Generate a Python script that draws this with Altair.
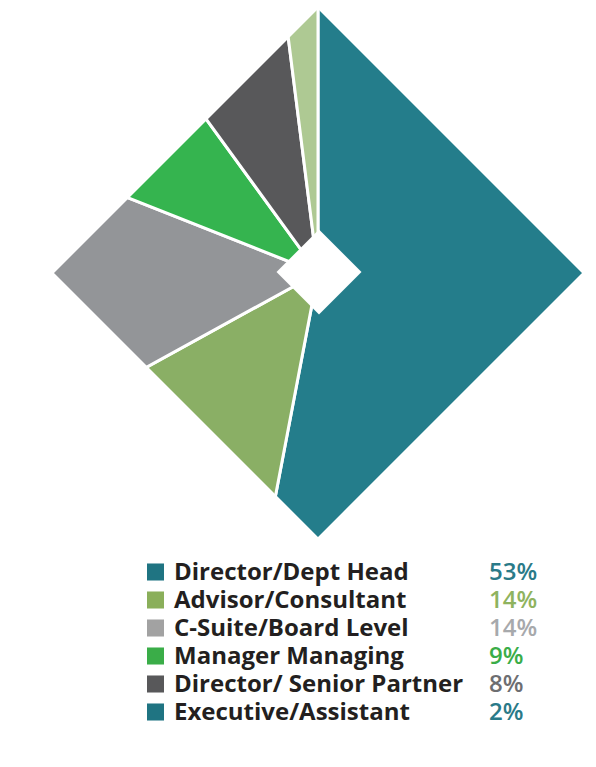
import altair as alt
import pandas as pd

# categories and their shares (percent), in clockwise order from 12 o'clock
categories = ["Director/Dept Head", "Advisor/Consultant", "C-Suite/Board Level",
              "Manager Managing", "Director/ Senior Partner", "Executive/Assistant"]
shares = [53, 14, 14, 9, 8, 2]
pct_labels = ["53%", "14%", "14%", "9%", "8%", "2%"]

slice_colors = ["#247D8B", "#8AAF65", "#939598", "#35B44F", "#58585A", "#AEC993"]
swatch_colors = ["#1F7482", "#8AAF5A", "#A2A2A2", "#3AAD48", "#58585A", "#1F7482"]
pct_colors = ["#2A7A88", "#8FB35E", "#A7A9AC", "#3AAD48", "#6D6E71", "#2A7A88"]

_INK = "#231F20"
_CX, _CY = 310, 265      # diamond centre (plot px)
_R = 264                 # half-diagonal of the diamond
_EDGE = 90               # half-width of the white mask band
_HOLE = 42.5             # half-diagonal of the centre hole

df = pd.DataFrame({
    "idx": range(len(categories)),
    "label": categories,
    "share": shares,
    "pct": pct_labels,
    "slice": slice_colors,
    "swatch": swatch_colors,
    "pcolor": pct_colors,
})
one = pd.DataFrame({"k": [0]})

# pie, cut to a diamond by a thick white diamond outline and a white centre
pie = (alt.Chart(df)
       .mark_arc(outerRadius=_R + 6, stroke="white", strokeWidth=3)
       .encode(theta=alt.Theta("share:Q", stack=True),
               order=alt.Order("idx:Q"),
               color=alt.Color("slice:N", scale=None),
               x=alt.value(_CX), y=alt.value(_CY)))

outer = _R + _EDGE * 2 ** 0.5
mask = (alt.Chart(one)
        .mark_point(shape="diamond", filled=False, color="white", opacity=1,
                    size=(2 * outer) ** 2, strokeWidth=2 * _EDGE, strokeJoin="miter")
        .encode(x=alt.value(_CX), y=alt.value(_CY)))

hole = (alt.Chart(one)
        .mark_point(shape="diamond", filled=True, color="white", opacity=1,
                    size=(2 * _HOLE) ** 2)
        .encode(x=alt.value(_CX + 1), y=alt.value(_CY - 1)))

ypos = alt.Y("label:N", axis=None,
             scale=alt.Scale(domain=categories, range=[564, 704], padding=0))

swatches = (alt.Chart(df)
            .mark_square(size=290, opacity=1)
            .encode(x=alt.value(147.5), y=ypos, color=alt.Color("swatch:N", scale=None)))

labels = (alt.Chart(df)
          .mark_text(align="left", baseline="middle", font="Open Sans", fontWeight="bold",
                     fontSize=24, color=_INK, dy=1)
          .encode(x=alt.value(166), y=ypos, text="label:N"))

pcts = (alt.Chart(df)
        .mark_text(align="left", baseline="middle", font="Open Sans", fontWeight=600,
                   fontSize=24, dy=1)
        .encode(x=alt.value(481), y=ypos, text="pct:N", color=alt.Color("pcolor:N", scale=None)))

chart = (alt.layer(pie, mask, hole, swatches, labels, pcts)
         .properties(width=580, height=751, padding=0,
                     autosize=alt.AutoSizeParams(type="none"), background="white")
         .configure_view(strokeWidth=0))

chart.save("out.html", embed_options={"renderer": "svg", "actions": False})
